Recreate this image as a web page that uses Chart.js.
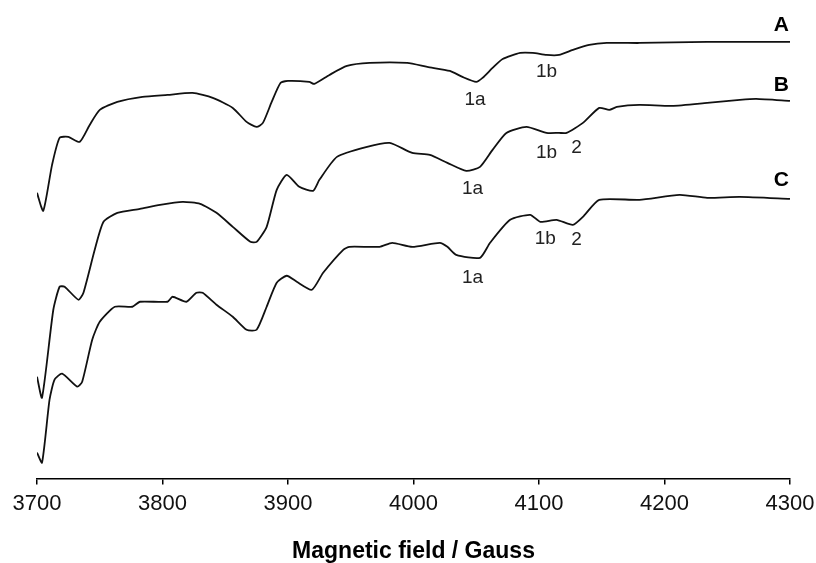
<!DOCTYPE html>
<html>
<head>
<meta charset="utf-8">
<script src="https://cdn.jsdelivr.net/npm/chart.js@4/dist/chart.umd.min.js"></script>
<style>
  html, body { margin: 0; padding: 0; background: #fff; }
  #chart-box { width: 816px; height: 563px; }
</style>
</head>
<body>
<div id="chart-box"><canvas id="epr-chart"></canvas></div>
<script>
// Spectrum A (top trace)
const fieldA = [3700, 3705, 3712, 3718, 3725, 3734, 3742, 3750, 3764, 3784, 3804, 3824, 3840, 3856, 3867, 3875, 3880, 3887, 3894, 3900, 3917, 3921, 3933, 3947, 3965, 3995, 4011, 4029, 4039, 4050, 4055, 4063, 4071, 4085, 4095, 4106, 4116, 4127, 4140, 4154, 4180, 4234, 4286, 4300];
const signalA = [285, 267, 313, 340, 341, 336, 353, 368, 376, 381, 383, 385, 380, 370, 356, 351, 355, 376, 395, 397, 396, 394, 403, 412, 415, 415, 411, 407, 401, 396, 400, 410, 419, 425, 425, 423, 423, 428, 433, 435, 435, 436, 436, 436];

// Spectrum B (middle trace)
const fieldB = [3700, 3704, 3713, 3718, 3722, 3733, 3737, 3746, 3753, 3764, 3782, 3798, 3816, 3830, 3843, 3856, 3870, 3875, 3883, 3891, 3899, 3909, 3920, 3925, 3939, 3963, 3981, 3999, 4013, 4027, 4042, 4053, 4063, 4074, 4090, 4106, 4116, 4122, 4135, 4148, 4156, 4162, 4180, 4206, 4234, 4260, 4273, 4300];
const signalB = [101, 80, 168, 191, 191, 178, 185, 228, 256, 265, 269, 273, 276, 274, 265, 251, 236, 236, 251, 288, 303, 291, 287, 298, 321, 331, 335, 325, 323, 315, 307, 311, 328, 345, 351, 345, 345, 345, 355, 370, 368, 371, 373, 372, 375, 378, 379, 377];

// Spectrum C (bottom trace)
const fieldC = [3700, 3704, 3710, 3714, 3720, 3732, 3736, 3744, 3750, 3762, 3776, 3782, 3804, 3808, 3819, 3827, 3832, 3843, 3856, 3867, 3875, 3883, 3891, 3899, 3907, 3919, 3928, 3944, 3949, 3973, 3983, 3999, 4021, 4027, 4034, 4053, 4061, 4077, 4093, 4101, 4114, 4127, 4135, 4148, 4180, 4212, 4234, 4260, 4300];
const signalC = [25, 15, 78, 98, 104, 91, 96, 138, 156, 171, 171, 176, 176, 181, 176, 185, 185, 173, 161, 148, 148, 171, 195, 202, 196, 188, 205, 228, 231, 231, 235, 231, 235, 231, 223, 220, 235, 258, 263, 256, 258, 253, 261, 278, 278, 283, 280, 281, 279];

const xTicks = [3700, 3800, 3900, 4000, 4100, 4200, 4300];

// peak markers under the traces
const peakText = ['1a', '1b', '1a', '1b', '2', '1a', '1b', '2'];
const peakField = [4049, 4106, 4047, 4106, 4130, 4047, 4105, 4130];
const peakSignal = [378, 406, 289, 325, 330, 200, 239, 238];

// trace letters on the right
const traceText = ['A', 'B', 'C'];
const traceField = [4293, 4293, 4293];
const traceSignal = [453, 393, 298];

function toPoints(xs, ys) {
  return xs.map((x, i) => ({ x: x, y: ys[i] }));
}

function makeTrace(label, xs, ys) {
  return {
    label: label,
    data: toPoints(xs, ys),
    borderColor: '#111',
    borderWidth: 1.8,
    pointRadius: 0,
    tension: 0.2,
    fill: false,
  };
}

const textLabels = {
  id: 'textLabels',
  afterDatasetsDraw(chart) {
    const { ctx, scales } = chart;
    ctx.save();
    ctx.textAlign = 'center';
    ctx.textBaseline = 'middle';
    ctx.fillStyle = '#222';
    ctx.font = '19px "Liberation Sans", Arial, sans-serif';
    peakText.forEach((t, i) => {
      ctx.fillText(t, scales.x.getPixelForValue(peakField[i]), scales.y.getPixelForValue(peakSignal[i]));
    });
    ctx.fillStyle = '#000';
    ctx.font = 'bold 21px "Liberation Sans", Arial, sans-serif';
    traceText.forEach((t, i) => {
      ctx.fillText(t, scales.x.getPixelForValue(traceField[i]), scales.y.getPixelForValue(traceSignal[i]));
    });
    ctx.restore();
  },
};

const CHART_OPTIONS = {
  responsive: false,
  animation: false,
  layout: {
    padding: { left: 37, right: 26, top: 8, bottom: 0 },
  },
  plugins: {
    legend: { display: false },
    tooltip: { enabled: false },
  },
  scales: {
    x: {
      type: 'linear',
      min: 3700,
      max: 4300,
      afterBuildTicks: (axis) => {
        axis.ticks = xTicks.map((v) => ({ value: v }));
      },
      afterFit: (axis) => {
        // let layout padding alone decide the plot width
        axis.paddingLeft = 0;
        axis.paddingRight = 0;
      },
      grid: {
        display: true,
        drawOnChartArea: false,
        drawTicks: true,
        tickLength: 6,
        color: '#000',
        lineWidth: 1.5,
      },
      border: { display: true, color: '#000', width: 1.6 },
      ticks: {
        color: '#111',
        padding: 6,
        maxRotation: 0,
        autoSkip: false,
        font: { family: '"Liberation Sans", Arial, sans-serif', size: 22 },
        callback: (v) => String(v),
      },
      title: {
        display: true,
        text: 'Magnetic field / Gauss',
        color: '#000',
        padding: { top: 17, bottom: 0 },
        font: { family: '"Liberation Sans", Arial, sans-serif', size: 23, weight: 'bold', lineHeight: 1 },
      },
    },
    y: {
      display: false,
      min: -1,
      max: 470,
    },
  },
};

function createChart(chartID, type, data, options) {
  const canvas = document.getElementById(chartID);
  canvas.width = 816;
  canvas.height = 563;
  const ctx = canvas.getContext('2d');
  new Chart(ctx, {
    type: type,
    data: data,
    options: options,
    plugins: [textLabels],
  });
}

function initializeCharts() {
  const chartData = {
    datasets: [
      makeTrace('A', fieldA, signalA),
      makeTrace('B', fieldB, signalB),
      makeTrace('C', fieldC, signalC),
    ],
  };
  createChart('epr-chart', 'line', chartData, CHART_OPTIONS);
}

initializeCharts();
</script>
</body>
</html>
